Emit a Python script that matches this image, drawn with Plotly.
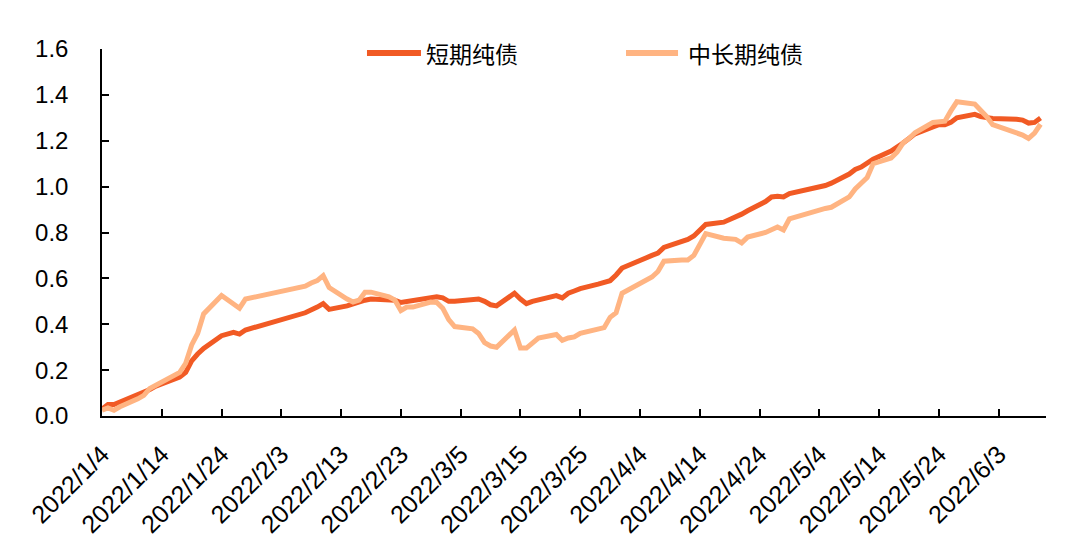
import plotly.graph_objects as go

dates = [
    "2022-01-04", "2022-01-05", "2022-01-06", "2022-01-07", "2022-01-10", "2022-01-11",
    "2022-01-12", "2022-01-13", "2022-01-14", "2022-01-17", "2022-01-18", "2022-01-19",
    "2022-01-20", "2022-01-21", "2022-01-24", "2022-01-25", "2022-01-26", "2022-01-27",
    "2022-01-28", "2022-02-07", "2022-02-08", "2022-02-09", "2022-02-10", "2022-02-11",
    "2022-02-14", "2022-02-15", "2022-02-16", "2022-02-17", "2022-02-18", "2022-02-21",
    "2022-02-22", "2022-02-23", "2022-02-24", "2022-02-25", "2022-02-28", "2022-03-01",
    "2022-03-02", "2022-03-03", "2022-03-04", "2022-03-07", "2022-03-08", "2022-03-09",
    "2022-03-10", "2022-03-11", "2022-03-14", "2022-03-15", "2022-03-16", "2022-03-17",
    "2022-03-18", "2022-03-21", "2022-03-22", "2022-03-23", "2022-03-24", "2022-03-25",
    "2022-03-28", "2022-03-29", "2022-03-30", "2022-03-31", "2022-04-01", "2022-04-06",
    "2022-04-07", "2022-04-08", "2022-04-11", "2022-04-12", "2022-04-13", "2022-04-14",
    "2022-04-15", "2022-04-18", "2022-04-19", "2022-04-20", "2022-04-21", "2022-04-22",
    "2022-04-25", "2022-04-26", "2022-04-27", "2022-04-28", "2022-04-29", "2022-05-05",
    "2022-05-06", "2022-05-09", "2022-05-10", "2022-05-11", "2022-05-12", "2022-05-13",
    "2022-05-16", "2022-05-17", "2022-05-18", "2022-05-19", "2022-05-20", "2022-05-23",
    "2022-05-24", "2022-05-25", "2022-05-26", "2022-05-27", "2022-05-30", "2022-05-31",
    "2022-06-01", "2022-06-02", "2022-06-06", "2022-06-07", "2022-06-08", "2022-06-09",
    "2022-06-10",
]

short_term = [
    0.030, 0.050, 0.050, 0.060, 0.090, 0.100,
    0.115, 0.130, 0.140, 0.170, 0.190, 0.240,
    0.270, 0.295, 0.350, 0.360, 0.365, 0.357,
    0.375, 0.450, 0.460, 0.475, 0.490, 0.465,
    0.480, 0.490, 0.500, 0.505, 0.510, 0.505,
    0.505, 0.495, 0.500, 0.505, 0.520, 0.520,
    0.515, 0.500, 0.500, 0.505, 0.510, 0.500,
    0.485, 0.480, 0.535, 0.510, 0.490, 0.500,
    0.505, 0.525, 0.515, 0.535, 0.545, 0.555,
    0.575, 0.585, 0.590, 0.615, 0.645, 0.700,
    0.710, 0.735, 0.760, 0.770, 0.785, 0.810,
    0.835, 0.845, 0.855, 0.870, 0.880, 0.895,
    0.935, 0.955, 0.958, 0.955, 0.970, 1.005,
    1.015, 1.055, 1.075, 1.085, 1.100, 1.120,
    1.155, 1.170, 1.190, 1.210, 1.230, 1.260,
    1.270, 1.270, 1.280, 1.300, 1.315, 1.305,
    1.300, 1.297, 1.294, 1.290, 1.277, 1.280,
    1.299,
]

mid_long_term = [
    0.025, 0.035, 0.025, 0.040, 0.075, 0.090,
    0.120, 0.135, 0.150, 0.190, 0.230, 0.310,
    0.360, 0.445, 0.525, 0.505, 0.485, 0.470,
    0.510, 0.566, 0.580, 0.590, 0.612, 0.560,
    0.510, 0.497, 0.505, 0.540, 0.540, 0.520,
    0.505, 0.460, 0.475, 0.475, 0.497, 0.495,
    0.470, 0.420, 0.390, 0.380, 0.360, 0.320,
    0.305, 0.300, 0.375, 0.296, 0.296, 0.320,
    0.340, 0.355, 0.330, 0.340, 0.345, 0.360,
    0.375, 0.385, 0.430, 0.450, 0.535, 0.606,
    0.630, 0.675, 0.680, 0.680, 0.700, 0.750,
    0.795, 0.775, 0.775, 0.770, 0.755, 0.780,
    0.800, 0.810, 0.824, 0.811, 0.860, 0.905,
    0.910, 0.955, 0.990, 1.015, 1.040, 1.100,
    1.125, 1.150, 1.190, 1.210, 1.235, 1.280,
    1.285, 1.285, 1.330, 1.370, 1.360, 1.335,
    1.305, 1.270, 1.235, 1.225, 1.210, 1.233,
    1.272,
]

series_names = ["短期纯债", "中长期纯债"]
series_colors = ["#F15A24", "#FFB482"]
y_ticks = [0.0, 0.2, 0.4, 0.6, 0.8, 1.0, 1.2, 1.4, 1.6]
y_tick_labels = ["0.0", "0.2", "0.4", "0.6", "0.8", "1.0", "1.2", "1.4", "1.6"]

fig = go.Figure()
fig.add_trace(go.Scatter(x=dates, y=short_term, mode="lines", name=series_names[0],
                         line=dict(color=series_colors[0], width=5), showlegend=False))
fig.add_trace(go.Scatter(x=dates, y=mid_long_term, mode="lines", name=series_names[1],
                         line=dict(color=series_colors[1], width=5), showlegend=False))

# manual legend (sample line + label), positioned in paper coordinates
legend_items = [
    (0.2807, 0.3379, 0.3411),
    (0.5551, 0.6102, 0.6186),
]
legend_y = 0.989
for (lx0, lx1, tx), name, color in zip(legend_items, series_names, series_colors):
    fig.add_shape(type="line", xref="paper", yref="paper", x0=lx0, x1=lx1,
                  y0=legend_y, y1=legend_y, line=dict(color=color, width=6))
    fig.add_annotation(xref="paper", yref="paper", x=tx, y=legend_y, text=name,
                       showarrow=False, xanchor="left", yanchor="middle",
                       font=dict(family="Noto Sans CJK SC", size=23, color="black"))

fig.update_layout(
    width=1080, height=548,
    margin=dict(l=94, r=42, t=41, b=140, autoexpand=False),
    paper_bgcolor="white", plot_bgcolor="white",
    font=dict(family="Liberation Sans, Arial", color="black", size=24),
    xaxis=dict(
        type="date",
        range=["2022-01-04", "2022-06-10 22:00"],
        tick0="2022-01-04", dtick=10 * 86400000,
        tickformat="%Y/%-m/%-d", tickangle=-45,
        showline=True, linecolor="black", linewidth=1.5,
        ticks="inside", ticklen=7, tickwidth=1.5, tickcolor="black",
        showgrid=False, zeroline=False, automargin=False,
        ticklabelstandoff=12,
        tickfont=dict(size=25),
    ),
    yaxis=dict(
        range=[0, 1.6], tickvals=y_ticks, ticktext=y_tick_labels,
        showline=True, linecolor="black", linewidth=1.5,
        ticks="inside", ticklen=7, tickwidth=1.5, tickcolor="black",
        showgrid=False, zeroline=False, automargin=False,
        ticklabelstandoff=27,
        tickfont=dict(size=24),
    ),
)

fig.write_html("out.html")
